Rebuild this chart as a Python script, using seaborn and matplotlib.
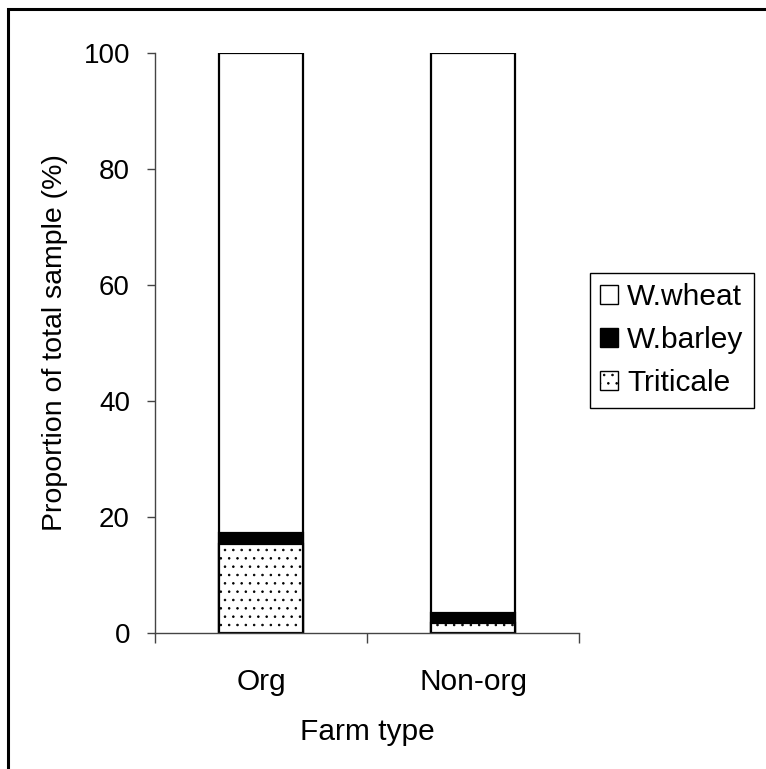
import numpy as np
import pandas as pd
import matplotlib.pyplot as plt
import seaborn as sns
from matplotlib.patches import Patch, Rectangle

farm_types = ['Org', 'Non-org']
triticale = [15.3, 1.7]
w_barley = [2.0, 1.8]
w_wheat = [82.7, 96.5]
crops = ['W.wheat', 'W.barley', 'Triticale']

df = pd.DataFrame({
    'Farm type': farm_types,
    'Triticale': triticale,
    'W.barley': w_barley,
    'W.wheat': w_wheat
})
# cumulative heights for stacking
df['barley_top'] = df['Triticale'] + df['W.barley']
df['wheat_top'] = df['barley_top'] + df['W.wheat']

sns.set_style('ticks')
plt.rcParams['font.family'] = ['Liberation Sans', 'DejaVu Sans']
plt.rcParams['text.color'] = 'black'
plt.rcParams['axes.labelcolor'] = 'black'
plt.rcParams['xtick.labelcolor'] = 'black'
plt.rcParams['ytick.labelcolor'] = 'black'
plt.rcParams['hatch.linewidth'] = 0.6
plt.rcParams['hatch.color'] = 'black'

fig = plt.figure(figsize=(7.66, 7.69), dpi=100)
ax = fig.add_axes([155/766, 1-633/769, 424/766, 580/769])

bar_kw = dict(data=df, x='Farm type', width=0.4, edgecolor='black',
              linewidth=1.6, saturation=1, errorbar=None, ax=ax)
sns.barplot(y='wheat_top', color='white', **bar_kw)
sns.barplot(y='barley_top', color='black', **bar_kw)
sns.barplot(y='Triticale', color='white', hatch='..', **bar_kw)

ax.set_xlim(-0.5, 1.5)
ax.set_ylim(0, 100)
ax.set_yticks(np.arange(0, 101, 20))
ax.set_xticks([0, 1])
ax.set_xticklabels(farm_types)
ax.set_xticks([-0.5, 0.5, 1.5], minor=True)
ax.tick_params(axis='x', which='major', length=0, pad=25, labelsize=21.5)
ax.tick_params(axis='x', which='minor', length=7.5, width=1, color='#444444')
ax.tick_params(axis='y', length=6, width=1, pad=12, labelsize=20, color='#444444')

sns.despine(ax=ax)
for s in ['left', 'bottom']:
    ax.spines[s].set_color('#444444')
    ax.spines[s].set_linewidth(1)

ax.set_xlabel('Farm type', fontsize=21.5, labelpad=16)
ax.set_ylabel('Proportion of total sample (%)', fontsize=20.5, labelpad=11)

handles = [
    Patch(facecolor='white', edgecolor='black', label=crops[0]),
    Patch(facecolor='black', edgecolor='black', label=crops[1]),
    Patch(facecolor='white', edgecolor='black', hatch='..', label=crops[2]),
]
fig.legend(handles=handles, loc='upper left',
           bbox_to_anchor=(590/766, 1-273/769), fontsize=21.5,
           frameon=True, fancybox=False, edgecolor='black', framealpha=1,
           handlelength=0.6, handleheight=0.6, handletextpad=0.3,
           borderpad=0.35, labelspacing=0.5, borderaxespad=0)

# outer frame (right and bottom edges fall outside the image)
fig.add_artist(Rectangle((8/766, -0.1), 1.2, 1 - 9/769 + 0.1,
                         transform=fig.transFigure, fill=False,
                         edgecolor='black', linewidth=2.2, clip_on=False))

fig.savefig('out.png', dpi=100)
